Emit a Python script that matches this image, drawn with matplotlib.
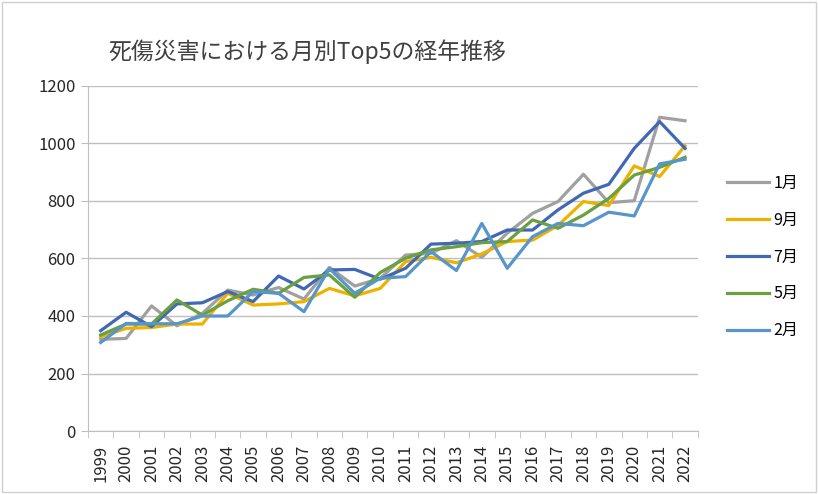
import numpy as np
import matplotlib.pyplot as plt
from matplotlib.patches import Rectangle

plt.rcParams['font.family'] = ['Noto Sans CJK JP', 'DejaVu Sans']

years = [str(y) for y in range(1999, 2023)]

jan = [319, 322, 435, 366, 409, 490, 473, 499, 459, 569, 504, 531,
       612, 618, 662, 604, 688, 757, 798, 893, 794, 801, 1091, 1079]
sep = [328, 357, 360, 372, 372, 479, 438, 442, 450, 496, 470, 496,
       589, 604, 585, 616, 659, 664, 715, 798, 784, 922, 885, 992]
jul = [349, 413, 363, 442, 446, 485, 450, 539, 494, 560, 562, 528,
       566, 650, 653, 659, 699, 699, 769, 827, 858, 983, 1076, 983]
may = [334, 372, 372, 456, 403, 453, 493, 479, 534, 543, 465, 551,
       601, 630, 641, 655, 659, 734, 705, 751, 809, 890, 917, 952]
feb = [308, 374, 373, 373, 400, 400, 485, 479, 415, 565, 479, 531,
       537, 624, 558, 722, 566, 676, 722, 714, 761, 748, 929, 945]

series = [('1月', jan, '#A0A0A0'),
          ('9月', sep, '#EDB100'),
          ('7月', jul, '#4068B4'),
          ('5月', may, '#6AA03E'),
          ('2月', feb, '#5696CC')]

fig = plt.figure(figsize=(8.18, 4.94), dpi=100)
ax = fig.add_axes([0.1076, 0.1275, 0.7454, 0.6985])

x = np.arange(len(years))
for name, vals, col in series:
    ax.plot(x, vals, color=col, lw=2.3, label=name, solid_joinstyle='round')

ax.set_xlim(-0.5, len(years) - 0.5)
ax.set_ylim(0, 1200)
ax.set_yticks(range(0, 1201, 200))
ax.set_xticks(x)
ax.set_xticklabels(years, rotation=90, fontsize=12)
ax.set_xticks(np.arange(-0.5, len(years), 1), minor=True)
ax.tick_params(axis='x', which='major', length=0, pad=10, colors='#262626')
ax.tick_params(axis='x', which='minor', length=5, color='#BFBFBF')
ax.tick_params(axis='y', length=5, color='#BFBFBF', labelsize=12, pad=4,
               labelcolor='#262626')
ax.grid(axis='y', color='#BFBFBF', lw=1)
ax.set_axisbelow(True)
for s in ['top', 'right']:
    ax.spines[s].set_visible(False)
ax.spines['bottom'].set_color('#BFBFBF')
ax.spines['left'].set_color('#BFBFBF')

fig.text(0.132, 0.895, '死傷災害における月別Top5の経年推移', fontsize=16.5,
         color='#404040', ha='left', va='center')

ax.legend(loc='upper left', bbox_to_anchor=(1.025, 0.785), frameon=False,
          fontsize=11.5, labelspacing=1.25, handlelength=2.6, handletextpad=0.3)

fig.patches.append(Rectangle((0.002, 0.004), 0.995, 0.992, transform=fig.transFigure,
                             fill=False, edgecolor='#D0D0D0', lw=1))

fig.savefig('out.png', dpi=100)
